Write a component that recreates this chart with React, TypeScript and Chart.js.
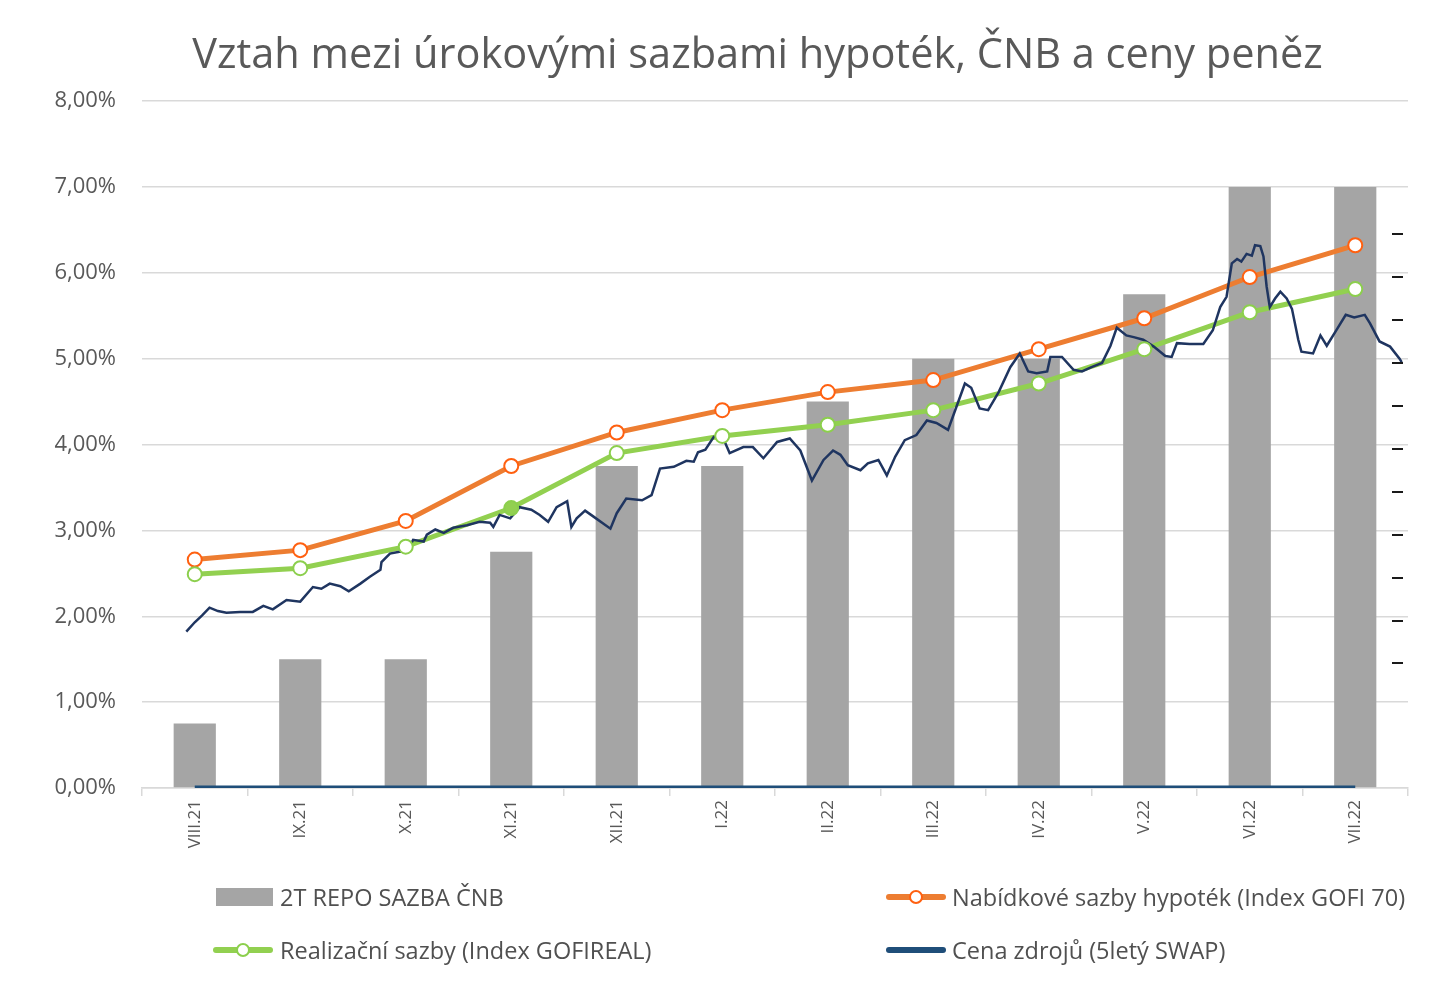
import React, { useEffect, useRef } from 'react';
import { Chart, registerables } from 'chart.js';

Chart.register(...registerables);

const chartTitle = 'Vztah mezi úrokovými sazbami hypoték, ČNB a ceny peněz';

const categories = ['VIII.21', 'IX.21', 'X.21', 'XI.21', 'XII.21', 'I.22', 'II.22', 'III.22', 'IV.22', 'V.22', 'VI.22', 'VII.22'];

// 2T REPO SAZBA ČNB (%)
const repoRate = [0.75, 1.5, 1.5, 2.75, 3.75, 3.75, 4.5, 5.0, 5.0, 5.75, 7.0, 7.0];
// Nabídkové sazby hypoték (Index GOFI 70) (%)
const gofi70 = [2.66, 2.77, 3.11, 3.75, 4.14, 4.4, 4.61, 4.75, 5.11, 5.47, 5.95, 6.32];
// Realizační sazby (Index GOFIREAL) (%)
const gofireal = [2.49, 2.56, 2.81, 3.26, 3.9, 4.1, 4.23, 4.4, 4.71, 5.11, 5.54, 5.81];
// Cena zdrojů (5letý SWAP) – series shown on the category axis (%)
const cenaZdroju = [0, 0, 0, 0, 0, 0, 0, 0, 0, 0, 0, 0];

// Daily 5Y SWAP curve: position in months (0 = VIII.21) and value (%)
const swapX = [
  -0.08, 0.0, 0.07, 0.14, 0.22, 0.3, 0.43, 0.55, 0.65, 0.74, 0.87, 1.0, 1.12, 1.2, 1.28, 1.38, 1.46, 1.57, 1.66, 1.76,
  1.77, 1.85, 1.94, 2.01, 2.07, 2.17, 2.2, 2.28, 2.36, 2.45, 2.58, 2.7, 2.8, 2.83, 2.89, 2.99, 3.08, 3.19, 3.27, 3.35,
  3.43, 3.53, 3.57, 3.62, 3.7, 3.78, 3.94, 4.0, 4.09, 4.24, 4.33, 4.41, 4.54, 4.66, 4.73, 4.77, 4.84, 4.92, 5.01, 5.07,
  5.2, 5.29, 5.39, 5.52, 5.64, 5.74, 5.85, 5.96, 6.05, 6.12, 6.19, 6.31, 6.38, 6.48, 6.56, 6.64, 6.73, 6.84, 6.94, 7.03,
  7.14, 7.22, 7.3, 7.36, 7.44, 7.52, 7.62, 7.73, 7.82, 7.9, 7.98, 8.08, 8.11, 8.22, 8.33, 8.41, 8.5, 8.6, 8.68, 8.74,
  8.83, 8.9, 8.99, 9.09, 9.2, 9.26, 9.31, 9.43, 9.56, 9.65, 9.72, 9.78, 9.83, 9.88, 9.92, 9.97, 10.02, 10.05, 10.1, 10.13,
  10.16, 10.19, 10.24, 10.29, 10.35, 10.4, 10.46, 10.49, 10.6, 10.67, 10.73, 10.83, 10.91, 10.99, 11.09, 11.14, 11.23, 11.33, 11.42, 11.44,
];
const swapY = [
  1.82, 1.93, 2.01, 2.1, 2.06, 2.04, 2.05, 2.05, 2.12, 2.08, 2.19, 2.17, 2.34, 2.32, 2.38, 2.35, 2.29, 2.38, 2.46, 2.54,
  2.63, 2.73, 2.75, 2.75, 2.89, 2.87, 2.95, 3.01, 2.97, 3.03, 3.06, 3.1, 3.09, 3.04, 3.18, 3.14, 3.27, 3.24, 3.18, 3.1,
  3.27, 3.34, 3.04, 3.14, 3.23, 3.16, 3.02, 3.2, 3.37, 3.35, 3.41, 3.72, 3.74, 3.81, 3.8, 3.91, 3.94, 4.09, 4.07, 3.9,
  3.97, 3.97, 3.84, 4.03, 4.07, 3.93, 3.58, 3.82, 3.93, 3.88, 3.76, 3.7, 3.78, 3.82, 3.64, 3.86, 4.05, 4.11, 4.28, 4.25,
  4.17, 4.44, 4.71, 4.66, 4.42, 4.4, 4.61, 4.9, 5.06, 4.85, 4.83, 4.85, 5.02, 5.02, 4.87, 4.85, 4.9, 4.95, 5.15, 5.36,
  5.27, 5.25, 5.22, 5.14, 5.03, 5.02, 5.18, 5.17, 5.17, 5.33, 5.6, 5.72, 6.11, 6.16, 6.13, 6.22, 6.2, 6.32, 6.31, 6.19,
  5.84, 5.6, 5.7, 5.78, 5.7, 5.58, 5.22, 5.08, 5.06, 5.27, 5.15, 5.35, 5.51, 5.48, 5.51, 5.41, 5.2, 5.14, 5.0, 4.96,
];

// secondary (unlabelled) axis tick marks on the right side (%)
const rightAxisTicks = [1.45, 1.95, 2.45, 2.95, 3.45, 3.95, 4.45, 4.95, 5.45, 5.95, 6.45];

const legendLabels = [
  '2T REPO SAZBA ČNB',
  'Nabídkové sazby hypoték (Index GOFI 70)',
  'Realizační sazby (Index GOFIREAL)',
  'Cena zdrojů (5letý SWAP)',
];

const GRAY_TEXT = '#595959';
const BAR = '#A5A5A5';
const ORANGE = '#ED7D31';
const ORANGE_MK = '#FF6010';
const GREEN = '#92D050';
const GREEN_MK = '#8CCF4D';
const NAVY = '#1F4E79';
const SWAP = '#1F3560';

const rightTicksPlugin = {
  id: 'rightTicks',
  afterDraw(chart: any) {
    const { ctx, chartArea, scales } = chart;
    ctx.save();
    ctx.strokeStyle = '#1a1a1a';
    ctx.lineWidth = 2;
    rightAxisTicks.forEach((v) => {
      const y = Math.round(scales.y.getPixelForValue(v));
      ctx.beginPath();
      ctx.moveTo(chartArea.right - 16, y);
      ctx.lineTo(chartArea.right - 5, y);
      ctx.stroke();
    });
    ctx.restore();
  },
};

const legendFont = "'Open Sans', sans-serif";

function LineSwatch({ color, marker, markerColor }: { color: string; marker: boolean; markerColor?: string }) {
  return (
    <div style={{ position: 'relative', width: 60, height: 16 }}>
      <div style={{ position: 'absolute', left: 0, top: 5, width: 60, height: 6, background: color, borderRadius: 3 }} />
      {marker && (
        <div
          style={{
            position: 'absolute', left: 23, top: 1, width: 10, height: 10, borderRadius: '50%',
            background: '#fff', border: `2px solid ${markerColor}`,
          }}
        />
      )}
    </div>
  );
}

export default function App() {
  const canvasRef = useRef<HTMLCanvasElement | null>(null);

  useEffect(() => {
    if (!canvasRef.current) return;
    const swapData = swapX.map((x, i) => ({ x, y: swapY[i] }));
    const greenPointBg = gofireal.map((_, i) => (i === 3 ? GREEN : '#ffffff'));

    const chart = new Chart(canvasRef.current, {
      type: 'bar',
      data: {
        labels: categories,
        datasets: [
          {
            type: 'bar',
            label: legendLabels[0],
            data: repoRate,
            backgroundColor: BAR,
            barPercentage: 0.4,
            categoryPercentage: 1,
            grouped: false,
            order: 10,
          },
          {
            type: 'line',
            label: legendLabels[1],
            data: gofi70,
            borderColor: ORANGE,
            borderWidth: 5,
            pointRadius: 0,
            order: 8,
          },
          {
            type: 'line',
            label: legendLabels[2],
            data: gofireal,
            borderColor: GREEN,
            borderWidth: 5,
            pointRadius: 0,
            order: 7,
          },
          {
            type: 'line',
            label: legendLabels[3],
            data: cenaZdroju,
            borderColor: NAVY,
            borderWidth: 5,
            pointRadius: 0,
            order: 6,
          },
          {
            type: 'line',
            label: 'SWAP',
            data: swapData as any,
            xAxisID: 'x2',
            borderColor: SWAP,
            borderWidth: 2.5,
            pointRadius: 0,
            tension: 0,
            order: 5,
          },
          {
            type: 'line',
            label: 'GOFI 70 markers',
            data: gofi70,
            showLine: false,
            pointRadius: 7,
            pointBorderWidth: 2,
            pointBorderColor: ORANGE_MK,
            pointBackgroundColor: '#ffffff',
            order: 2,
          },
          {
            type: 'line',
            label: 'GOFIREAL markers',
            data: gofireal,
            showLine: false,
            pointRadius: 7,
            pointBorderWidth: 2,
            pointBorderColor: GREEN_MK,
            pointBackgroundColor: greenPointBg,
            order: 1,
          },
        ],
      },
      options: {
        responsive: false,
        animation: false,
        devicePixelRatio: 1,
        layout: { padding: { left: 0, right: 34, top: 101, bottom: 136 } },
        plugins: {
          legend: { display: false },
          tooltip: { enabled: false },
          title: { display: false },
        },
        scales: {
          x: {
            type: 'category',
            offset: true,
            grid: {
              offset: true,
              drawOnChartArea: false,
              drawTicks: true,
              tickLength: 8,
              color: '#d9d9d9',
              lineWidth: 1.5,
            },
            border: { display: true, color: '#d9d9d9', width: 1.5 },
            ticks: {
              color: GRAY_TEXT,
              font: { family: "'Open Sans', sans-serif", size: 17 },
              minRotation: 90,
              maxRotation: 90,
              padding: 4,
              autoSkip: false,
            },
            afterFit: (scale: any) => {
              scale.height = 70;
            },
          },
          x2: {
            type: 'linear',
            display: false,
            offset: false,
            min: -0.5,
            max: 11.5,
          },
          y: {
            min: 0,
            max: 8,
            ticks: {
              stepSize: 1,
              color: GRAY_TEXT,
              font: { family: "'Open Sans', sans-serif", size: 22 },
              padding: 26,
              callback: (v: any) => Number(v).toFixed(2).replace('.', ',') + '%',
            },
            grid: { color: '#d9d9d9', lineWidth: 1.5, drawTicks: false },
            border: { display: false },
            afterFit: (scale: any) => {
              scale.width = 142;
            },
          },
        },
      },
      plugins: [rightTicksPlugin],
    } as any);

    return () => chart.destroy();
  }, []);

  const textStyle: React.CSSProperties = {
    position: 'absolute',
    fontFamily: legendFont,
    fontSize: 23.5,
    color: '#505050',
    lineHeight: '30px',
    whiteSpace: 'nowrap',
  };

  return (
    <div style={{ position: 'absolute', left: 0, top: 0, width: 1442, height: 994, background: '#fff' }}>
      <canvas ref={canvasRef} width={1442} height={994} style={{ display: 'block' }} />
      <div
        style={{
          position: 'absolute', left: 757.5, top: 28, transform: 'translateX(-50%)',
          fontFamily: "'Open Sans', sans-serif", fontSize: 41.5, lineHeight: '49.8px',
          color: GRAY_TEXT, whiteSpace: 'nowrap',
        }}
      >
        {chartTitle}
      </div>
      {/* legend row 1 */}
      <div style={{ position: 'absolute', left: 216, top: 888, width: 57, height: 18, background: BAR }} />
      <div style={{ ...textStyle, left: 280, top: 882 }}>{legendLabels[0]}</div>
      <div style={{ position: 'absolute', left: 886, top: 889 }}>
        <LineSwatch color={ORANGE} marker markerColor={ORANGE_MK} />
      </div>
      <div style={{ ...textStyle, left: 952, top: 882 }}>{legendLabels[1]}</div>
      {/* legend row 2 */}
      <div style={{ position: 'absolute', left: 213, top: 942 }}>
        <LineSwatch color={GREEN} marker markerColor={GREEN_MK} />
      </div>
      <div style={{ ...textStyle, left: 280, top: 935 }}>{legendLabels[2]}</div>
      <div style={{ position: 'absolute', left: 886, top: 942 }}>
        <LineSwatch color={NAVY} marker={false} />
      </div>
      <div style={{ ...textStyle, left: 952, top: 935 }}>{legendLabels[3]}</div>
    </div>
  );
}
